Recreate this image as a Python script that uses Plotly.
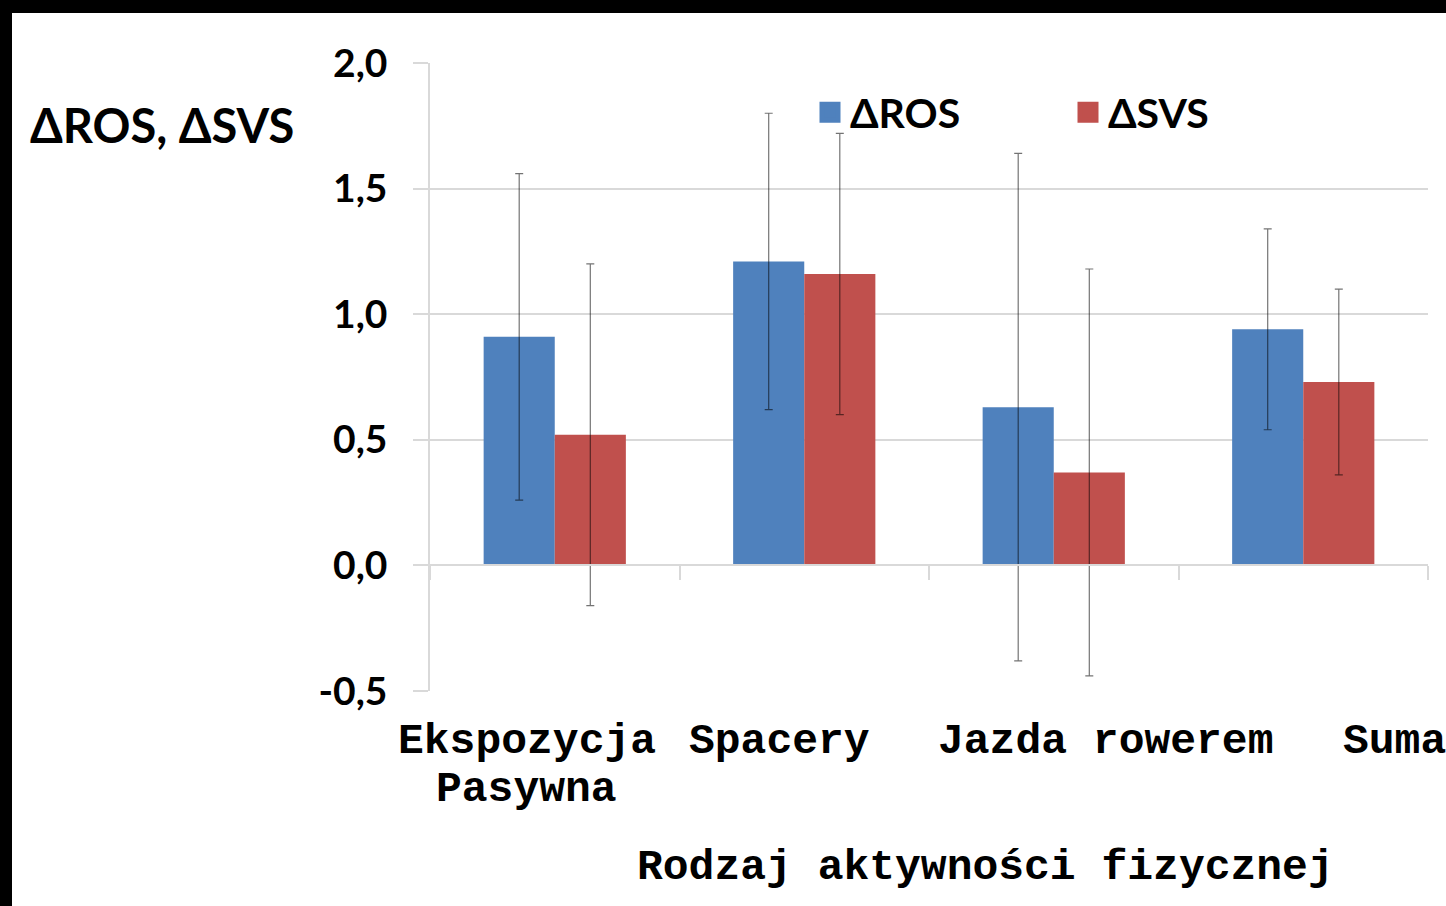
import plotly.graph_objects as go

categories = ["Ekspozycja Pasywna", "Spacery", "Jazda rowerem", "Suma"]
label_lines = [["Ekspozycja", "Pasywna"], ["Spacery"], ["Jazda rowerem"], ["Suma"]]
label_shift = [-28, -25, 52, 91]
ros = [0.91, 1.21, 0.63, 0.94]
ros_err = [0.65, 0.59, 1.01, 0.40]
svs = [0.52, 1.16, 0.37, 0.73]
svs_err = [0.68, 0.56, 0.81, 0.37]
series_names = ["ΔROS", "ΔSVS"]
colors = ["#4F81BD", "#C0504D"]
y_title = "ΔROS, ΔSVS"
x_title = "Rodzaj aktywności fizycznej"
y_ticks = [-0.5, 0.0, 0.5, 1.0, 1.5, 2.0]
y_tick_text = ["-0,5", "0,0", "0,5", "1,0", "1,5", "2,0"]

W, H = 1446, 906
ML, MR, MT, MB = 430, 18, 63, 215
pw, ph = W - ML - MR, H - MT - MB

def px_x(p):
    return (p - ML) / pw

def px_y(p):
    return (H - MB - p) / ph

fig = go.Figure()
err_style = dict(type="data", visible=True, color="rgba(0,0,0,0.55)", thickness=1.2, width=4)
for name, vals, errs, col in [(series_names[0], ros, ros_err, colors[0]),
                              (series_names[1], svs, svs_err, colors[1])]:
    fig.add_trace(go.Bar(
        x=categories, y=vals, name=name, marker=dict(color=col, line=dict(width=0)),
        error_y=dict(array=errs, **err_style), showlegend=False, legendgroup=name,
        hoverinfo="skip",
    ))
    fig.add_trace(go.Scatter(
        x=[None], y=[None], mode="markers", name=name, legendgroup=name,
        marker=dict(symbol="square", size=16, color=col, line=dict(color=col, width=5)),
    ))

mono = dict(family="Liberation Mono", size=43, color="black", weight="bold")
ann = []
for cat, lines, sh in zip(categories, label_lines, label_shift):
    for i, ln in enumerate(lines):
        ann.append(dict(x=cat, xref="x", y=px_y(741 + 48 * i), yref="paper",
                        text=ln, showarrow=False, xshift=sh, font=mono,
                        xanchor="center", yanchor="middle"))
ann.append(dict(x=px_x(985), xref="paper", y=px_y(867), yref="paper", text=x_title,
                showarrow=False, font=mono, xanchor="center", yanchor="middle"))
ann.append(dict(x=px_x(28), xref="paper", y=px_y(125), yref="paper", text=y_title,
                showarrow=False, xanchor="left", yanchor="middle",
                font=dict(family="Lato", size=47, color="black", weight="bold")))

shapes = [
    dict(type="rect", xref="paper", yref="paper", x0=px_x(-5), x1=px_x(12), y0=px_y(H + 5), y1=px_y(-5),
         fillcolor="black", line=dict(width=0), layer="above"),
    dict(type="rect", xref="paper", yref="paper", x0=px_x(-5), x1=px_x(W + 5), y0=px_y(13), y1=px_y(-5),
         fillcolor="black", line=dict(width=0), layer="above"),
]

fig.update_layout(
    width=W, height=H,
    margin=dict(l=ML, r=MR, t=MT, b=MB, pad=0),
    paper_bgcolor="white", plot_bgcolor="white",
    barmode="group", bargap=0.43, bargroupgap=0,
    showlegend=True,
    legend=dict(orientation="h", x=px_x(810), y=px_y(79), xanchor="left", yanchor="top",
                font=dict(family="Lato", size=41, color="black", weight="bold"),
                entrywidth=213, bgcolor="rgba(0,0,0,0)", itemclick=False),
    xaxis=dict(type="category", range=[-0.5, 3.5], showticklabels=False, showgrid=False,
               anchor="free", position=0.2, showline=True, linecolor="#D9D9D9", linewidth=1.5,
               ticks="outside", tickson="boundaries", ticklen=14, tickcolor="#D9D9D9",
               tickwidth=1.5, zeroline=False, fixedrange=True),
    yaxis=dict(range=[-0.5, 2.0], tickvals=y_ticks, ticktext=y_tick_text,
               showgrid=True, gridcolor="#D9D9D9", gridwidth=1.5,
               showline=True, linecolor="#D9D9D9", linewidth=1.5,
               ticks="outside", ticklen=15, tickcolor="#D9D9D9", tickwidth=1.5,
               zeroline=False, ticklabelstandoff=18, fixedrange=True,
               tickfont=dict(family="Lato", size=39, color="black", weight="bold")),
    annotations=ann, shapes=shapes,
)

fig.write_html("out.html", config={"displayModeBar": False},
               post_script="document.body.style.margin='0';")
